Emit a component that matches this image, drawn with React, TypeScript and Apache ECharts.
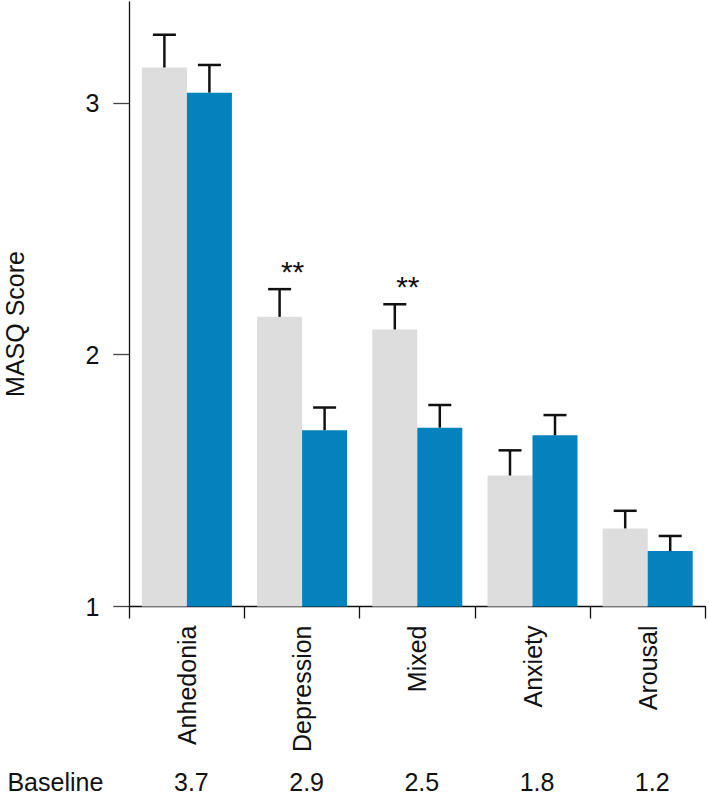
import React, { useEffect, useRef } from "react";
import * as echarts from "echarts";

const categories = ["Anhedonia", "Depression", "Mixed", "Anxiety", "Arousal"];
const grayMeans = [3.14, 2.15, 2.1, 1.52, 1.31];
const grayErr = [0.13, 0.11, 0.1, 0.1, 0.07];
const blueMeans = [3.04, 1.7, 1.71, 1.68, 1.22];
const blueErr = [0.11, 0.09, 0.09, 0.08, 0.06];
const significance = ["", "**", "**", "", ""];
const baselineValues = ["3.7", "2.9", "2.5", "1.8", "1.2"];
const yTicks = [1, 2, 3];

const FONT = "'Liberation Sans', Arial, Helvetica, sans-serif";
const GRAY = "#dddddd";
const BLUE = "#0482bd";
const BAR_W = 45;

function errSeries(means: number[], errs: number[], shift: number, withSig: boolean) {
  return {
    type: "custom",
    z: 5,
    data: means.map((m, i) => [i, m, m + errs[i]]),
    encode: { x: 0, y: [1, 2] },
    renderItem: (params: any, api: any) => {
      const idx = api.value(0);
      const mean = api.value(1);
      const top = api.value(2);
      const b = api.coord([idx, mean]);
      const t = api.coord([idx, top]);
      const x = b[0] + shift;
      const children: any[] = [
        {
          type: "line",
          shape: { x1: x, y1: b[1], x2: x, y2: t[1] },
          style: { stroke: "#111", lineWidth: 2.5 },
        },
        {
          type: "line",
          shape: { x1: x - 11.5, y1: t[1], x2: x + 11.5, y2: t[1] },
          style: { stroke: "#111", lineWidth: 2.5 },
        },
      ];
      if (withSig && significance[idx]) {
        children.push({
          type: "text",
          x: x + 13,
          y: t[1] - 18,
          style: {
            text: significance[idx],
            fontSize: 30,
            fontFamily: FONT,
            fill: "#111",
            align: "center",
            verticalAlign: "middle",
          },
        });
      }
      return { type: "group", children };
    },
  };
}

export default function App() {
  const ref = useRef<HTMLDivElement>(null);
  useEffect(() => {
    if (!ref.current) return;
    const chart = echarts.init(ref.current, null, { renderer: "svg" });
    const option: any = {
      animation: false,
      backgroundColor: "#ffffff",
      textStyle: { fontFamily: FONT },
      grid: { left: 129.3, right: 3.7, top: 2, bottom: 191.5, containLabel: false },
      xAxis: [
        {
          type: "category",
          data: categories,
          position: "bottom",
          axisLine: { show: true, lineStyle: { color: "#111", width: 1.3 } },
          axisTick: { show: true, length: 12, lineStyle: { color: "#111", width: 1.3 } },
          axisLabel: {
            rotate: 90,
            interval: 0,
            margin: 19,
            fontSize: 25,
            color: "#111",
            fontFamily: FONT,
          },
          splitLine: { show: false },
        },
        {
          type: "category",
          data: baselineValues,
          position: "bottom",
          offset: 175.5,
          axisLine: { show: false },
          axisTick: { show: false },
          axisLabel: {
            interval: 0,
            margin: 0,
            verticalAlign: "middle",
            fontSize: 25,
            color: "#111",
            fontFamily: FONT,
            padding: [0, 0, 0, 9],
          },
          name: "Baseline",
          nameLocation: "start",
          nameGap: 26,
          nameTextStyle: { fontSize: 25, color: "#111", fontFamily: FONT, verticalAlign: "middle" },
          splitLine: { show: false },
        },
      ],
      yAxis: {
        type: "value",
        min: 1,
        max: 3.4,
        interval: 1,
        axisLine: { show: true, lineStyle: { color: "#111", width: 1.3 } },
        axisTick: { show: true, length: 16, customValues: yTicks, lineStyle: { color: "#444", width: 1.3 } },
        axisLabel: {
          customValues: yTicks,
          margin: 30,
          fontSize: 25,
          color: "#111",
          fontFamily: FONT,
        },
        splitLine: { show: false },
      },
      graphic: [
        {
          type: "text",
          x: 15,
          y: 324,
          rotation: Math.PI / 2,
          style: {
            text: "MASQ Score",
            fontSize: 25,
            fontFamily: FONT,
            fill: "#111",
            align: "center",
            verticalAlign: "middle",
          },
        },
      ],
      series: [
        {
          name: "Group 1",
          type: "bar",
          data: grayMeans,
          barWidth: BAR_W,
          barGap: "0%",
          itemStyle: { color: GRAY },
        },
        {
          name: "Group 2",
          type: "bar",
          data: blueMeans,
          barWidth: BAR_W,
          barGap: "0%",
          itemStyle: { color: BLUE },
        },
        errSeries(grayMeans, grayErr, -BAR_W / 2, true),
        errSeries(blueMeans, blueErr, BAR_W / 2, false),
      ],
    };
    chart.setOption(option);
    return () => chart.dispose();
  }, []);
  return (
    <div
      ref={ref}
      style={{ position: "fixed", left: 0, top: 0, width: 709, height: 798, background: "#fff" }}
    />
  );
}
